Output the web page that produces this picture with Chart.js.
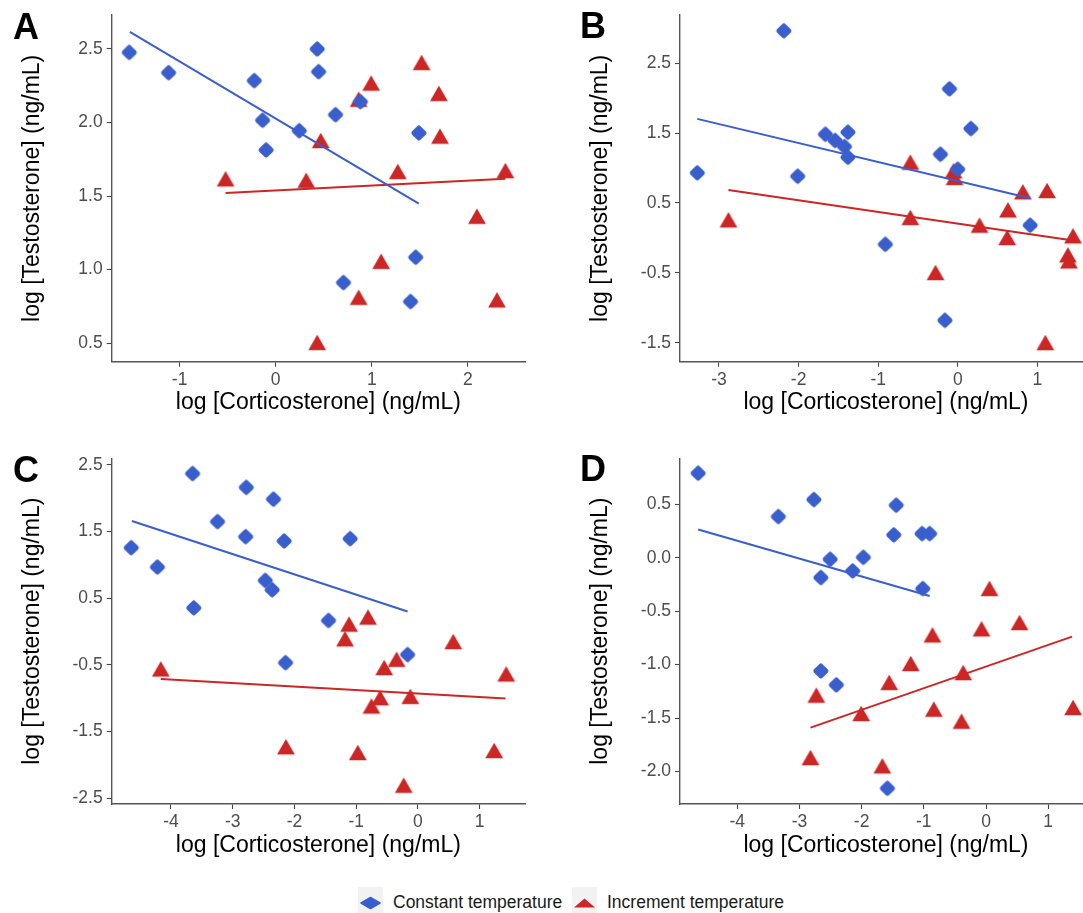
<!DOCTYPE html>
<html><head><meta charset="utf-8">
<script src="https://cdn.jsdelivr.net/npm/chart.js@4.4.1/dist/chart.umd.min.js"></script>
<style>
html,body{margin:0;padding:0;background:#fff;}
body{width:1083px;height:913px;overflow:hidden;position:relative;font-family:'Liberation Sans',Arial,sans-serif;}
canvas{position:absolute;}
.lbl{position:absolute;font-weight:bold;font-size:36px;line-height:36px;color:#000;}
.key{position:absolute;background:#F2F2F2;width:25px;height:26px;}
.key canvas{position:absolute;left:0;top:0;}
.ltxt{position:absolute;font-size:17.5px;line-height:20px;color:#1a1a1a;white-space:nowrap;}
</style></head><body>
<canvas id="cA" width="540" height="430" style="left:0;top:0"></canvas>
<canvas id="cB" width="567" height="430" style="left:540px;top:0"></canvas>
<canvas id="cC" width="540" height="430" style="left:0;top:430px"></canvas>
<canvas id="cD" width="567" height="430" style="left:540px;top:430px"></canvas>
<div class="lbl" style="left:13px;top:9px">A</div>
<div class="lbl" style="left:580px;top:8px">B</div>
<div class="lbl" style="left:13px;top:452px">C</div>
<div class="lbl" style="left:580px;top:451px">D</div>
<div class="key" style="left:358px;top:887px"><canvas id="k1" width="25" height="26"></canvas></div>
<div class="ltxt" style="left:393px;top:892px">Constant temperature</div>
<div class="key" style="left:572px;top:887px"><canvas id="k2" width="25" height="26"></canvas></div>
<div class="ltxt" style="left:607px;top:892px">Increment temperature</div>
<script>
// ---------- DATA ----------
const seriesNames = ['Constant temperature', 'Increment temperature'];
const xTitle = 'log [Corticosterone] (ng/mL)';
const yTitle = 'log [Testosterone] (ng/mL)';

// Panel A
const A_constX = [-1.525,-1.115,-0.223,-0.137,-0.10,0.245,0.432,0.446,0.622,0.881,1.489,1.457,0.705,1.403];
const A_constY = [2.475,2.337,2.283,2.014,1.812,1.943,2.498,2.344,2.052,2.14,1.928,1.084,0.912,0.783];
const A_incrX = [-0.522,0.317,0.468,0.863,0.993,1.518,1.698,1.709,1.27,2.39,2.094,1.097,0.863,2.302,0.432];
const A_incrY = [1.60,1.59,1.86,2.14,2.25,2.39,2.18,1.89,1.65,1.656,1.346,1.04,0.796,0.778,0.489];
const A_fitConstX = [-1.518, 1.489], A_fitConstY = [2.615, 1.448];
const A_fitIncrX = [-0.522, 2.39], A_fitIncrY = [1.52, 1.618];
const A_xTicks = [-1, 0, 1, 2];
const A_yTicks = [0.5, 1.0, 1.5, 2.0, 2.5];

// Panel B
const B_constX = [-2.185,-3.273,-2.011,-1.663,-1.541,-1.423,-1.38,-1.38,-0.104,0.165,-0.218,0.0,0.91,-0.91,-0.161];
const B_constY = [2.963,0.93,0.882,1.483,1.393,1.307,1.512,1.154,2.132,1.564,1.197,0.982,0.18,-0.092,-1.18];
const B_incrX = [-2.881,-0.596,-0.596,-0.279,-0.052,-0.04,0.274,0.622,0.631,0.818,1.123,1.449,1.384,1.397,1.101];
const B_incrY = [0.223,1.049,0.257,-0.531,0.925,0.83,0.147,-0.03,0.366,0.624,0.643,-0.006,-0.278,-0.364,-1.533];
const B_fitConstX = [-3.273, 0.91], B_fitConstY = [1.703, 0.567];
const B_fitIncrX = [-2.881, 1.449], B_fitIncrY = [0.686, -0.039];
const B_xTicks = [-3, -2, -1, 0, 1];
const B_yTicks = [-1.5, -0.5, 0.5, 1.5, 2.5];

// Panel C
const C_constX = [-4.644,-4.22,-3.65,-3.63,-3.246,-2.78,-2.79,-2.34,-2.166,-2.472,-2.361,-2.144,-1.448,-1.097,-0.167];
const C_constY = [1.258,0.967,2.37,0.354,1.649,2.163,1.423,1.986,1.358,0.766,0.625,-0.469,0.164,1.393,-0.348];
const C_incrX = [-4.165,-2.138,-1.18,-1.114,-0.808,-0.974,-0.752,-0.612,-0.546,-0.345,-0.122,-0.23,0.573,1.236,1.431];
const C_incrY = [-0.599,-1.768,-0.147,0.073,0.179,-1.854,-1.156,-1.031,-0.579,-0.454,-1.011,-2.345,-0.188,-1.824,-0.674];
const C_fitConstX = [-4.633, -0.167], C_fitConstY = [1.659, 0.299];
const C_fitIncrX = [-4.165, 1.42], C_fitIncrY = [-0.715, -1.006];
const C_xTicks = [-4, -3, -2, -1, 0, 1];
const C_yTicks = [-2.5, -1.5, -0.5, 0.5, 1.5, 2.5];

// Panel D
const D_constX = [-4.628,-3.339,-2.767,-2.656,-2.506,-2.144,-1.972,-1.444,-1.483,-1.028,-0.906,-1.017,-2.656,-2.406,-1.585];
const D_constY = [0.794,0.3875,0.547,-0.184,-0.0125,-0.122,0.006,0.494,0.216,0.228,0.228,-0.2875,-1.059,-1.19,-2.159];
const D_incrX = [-2.822,-2.728,-2.006,-1.667,-1.556,-1.211,-0.861,-0.839,-0.394,-0.367,-0.072,0.056,0.539,1.40];
const D_incrY = [-1.894,-1.309,-1.481,-1.972,-1.19,-1.0125,-0.744,-1.44,-1.553,-1.097,-0.6875,-0.309,-0.628,-1.425];
const D_fitConstX = [-4.628, -0.906], D_fitConstY = [0.266, -0.356];
const D_fitIncrX = [-2.822, 1.383], D_fitIncrY = [-1.59, -0.7375];
const D_xTicks = [-4, -3, -2, -1, 0, 1];
const D_yTicks = [-2.0, -1.5, -1.0, -0.5, 0.0, 0.5];

// ---------- STYLE ----------
const BLUE = '#3A5FCD', RED = '#CD2626';
const TICK_COLOR = '#4D4D4D', AXIS_COLOR = '#555555';
Chart.defaults.font.family = "'Liberation Sans', Arial, sans-serif";

function diamondCanvas(w, h, half, lw) {
  const c = document.createElement('canvas'); c.width = w; c.height = h;
  const g = c.getContext('2d');
  const cx = w / 2, cy = h / 2;
  g.beginPath();
  g.moveTo(cx, cy - half[1]); g.lineTo(cx + half[0], cy);
  g.lineTo(cx, cy + half[1]); g.lineTo(cx - half[0], cy); g.closePath();
  g.fillStyle = BLUE; g.strokeStyle = BLUE; g.lineWidth = lw; g.lineJoin = 'round';
  g.fill(); g.stroke();
  return c;
}
function triangleCanvas(size, r) {
  const c = document.createElement('canvas'); c.width = size; c.height = size;
  const g = c.getContext('2d');
  const cx = size / 2, cy = size / 2;
  g.beginPath();
  g.moveTo(cx, cy - r);
  g.lineTo(cx + r * Math.sqrt(3) / 2, cy + r / 2);
  g.lineTo(cx - r * Math.sqrt(3) / 2, cy + r / 2);
  g.closePath();
  g.fillStyle = RED; g.fill();
  return c;
}
const DIAM = diamondCanvas(20, 20, [5.2, 5.2], 4.6);
const TRI = triangleCanvas(24, 10.3);

function xy(xs, ys) { return xs.map((x, i) => ({ x: x, y: ys[i] })); }

function makeChart(id, p) {
  new Chart(document.getElementById(id), {
    type: 'scatter',
    data: {
      datasets: [
        { label: 'fit ' + seriesNames[0], data: xy(p.fcx, p.fcy), showLine: true, borderColor: BLUE, borderWidth: 2, pointRadius: 0, order: 0, clip: false },
        { label: 'fit ' + seriesNames[1], data: xy(p.fix, p.fiy), showLine: true, borderColor: RED, borderWidth: 2, pointRadius: 0, order: 0, clip: false },
        { label: seriesNames[0], data: xy(p.cx, p.cy), pointStyle: DIAM, pointRadius: 7, backgroundColor: BLUE, borderColor: BLUE, order: 1, clip: false },
        { label: seriesNames[1], data: xy(p.ix, p.iy), pointStyle: TRI, pointRadius: 9, backgroundColor: RED, borderColor: RED, order: 2, clip: false }
      ]
    },
    options: {
      responsive: false, animation: false, devicePixelRatio: 1, events: [],
      layout: { autoPadding: false, padding: { left: 0, top: p.T, right: p.W - p.R, bottom: 0 } },
      plugins: { legend: { display: false }, tooltip: { enabled: false } },
      scales: {
        x: {
          type: 'linear', min: p.xMin, max: p.xMax,
          afterBuildTicks: s => { s.ticks = p.xTicks.map(v => ({ value: v })); },
          afterFit: s => { s.height = p.H - p.B; },
          ticks: { color: TICK_COLOR, font: { size: 17.5 }, padding: 3, maxRotation: 0, autoSkip: false,
                   callback: v => String(v) },
          grid: { display: true, drawOnChartArea: false, drawTicks: true, tickLength: 5, tickColor: '#444', tickWidth: 1.1 },
          border: { display: true, color: AXIS_COLOR, width: 1.4 },
          title: { display: true, text: xTitle, color: '#000', font: { size: 23 }, padding: { top: 0, bottom: p.xtp } }
        },
        y: {
          type: 'linear', min: p.yMin, max: p.yMax,
          afterBuildTicks: s => { s.ticks = p.yTicks.map(v => ({ value: v })); },
          afterFit: s => { s.width = p.L; },
          ticks: { color: TICK_COLOR, font: { size: 17.5 }, padding: 4, autoSkip: false,
                   callback: v => Number(v).toFixed(1) },
          grid: { display: true, drawOnChartArea: false, drawTicks: true, tickLength: 5, tickColor: '#444', tickWidth: 1.1 },
          border: { display: true, color: AXIS_COLOR, width: 1.4 },
          title: { display: true, text: yTitle, color: '#000', font: { size: 23 }, padding: { top: p.ytp, bottom: 0 } }
        }
      }
    }
  });
}

makeChart('cA', { W: 540, H: 430, L: 111.7, T: 15, R: 525, B: 361.7, xMin: -1.707, xMax: 2.594, yMin: 0.375, yMax: 2.729,
  xTicks: A_xTicks, yTicks: A_yTicks, cx: A_constX, cy: A_constY, ix: A_incrX, iy: A_incrY,
  fcx: A_fitConstX, fcy: A_fitConstY, fix: A_fitIncrX, fiy: A_fitIncrY, ytp: 18.7, xtp: 13.5 });
makeChart('cB', { W: 567, H: 430, L: 140, T: 15, R: 552, B: 361.7, xMin: -3.49, xMax: 1.687, yMin: -1.772, yMax: 3.19,
  xTicks: B_xTicks, yTicks: B_yTicks, cx: B_constX, cy: B_constY, ix: B_incrX, iy: B_incrY,
  fcx: B_fitConstX, fcy: B_fitConstY, fix: B_fitIncrX, fiy: B_fitIncrY, ytp: 46.7, xtp: 13.5 });
makeChart('cC', { W: 540, H: 430, L: 111.7, T: 28.3, R: 525, B: 374, xMin: -4.96, xMax: 1.735, yMin: -2.59, yMax: 2.6,
  xTicks: C_xTicks, yTicks: C_yTicks, cx: C_constX, cy: C_constY, ix: C_incrX, iy: C_incrY,
  fcx: C_fitConstX, fcy: C_fitConstY, fix: C_fitIncrX, fiy: C_fitIncrY, ytp: 18.7, xtp: 0.2 });
makeChart('cD', { W: 567, H: 430, L: 140, T: 28.3, R: 552, B: 374, xMin: -4.92, xMax: 1.704, yMin: -2.306, yMax: 0.934,
  xTicks: D_xTicks, yTicks: D_yTicks, cx: D_constX, cy: D_constY, ix: D_incrX, iy: D_incrY,
  fcx: D_fitConstX, fcy: D_fitConstY, fix: D_fitIncrX, fiy: D_fitIncrY, ytp: 46.7, xtp: 0.2 });

// legend key glyphs (wide, as in the reference legend)
(function () {
  const k1 = document.getElementById('k1').getContext('2d');
  k1.drawImage(diamondCanvas(25, 26, [9.5, 5.5], 1.5), 0, 3);
  const k2 = document.getElementById('k2').getContext('2d');
  k2.beginPath(); k2.moveTo(12.5, 11.5); k2.lineTo(23, 20.5); k2.lineTo(2, 20.5); k2.closePath();
  k2.fillStyle = RED; k2.fill();
})();
</script>
</body></html>
